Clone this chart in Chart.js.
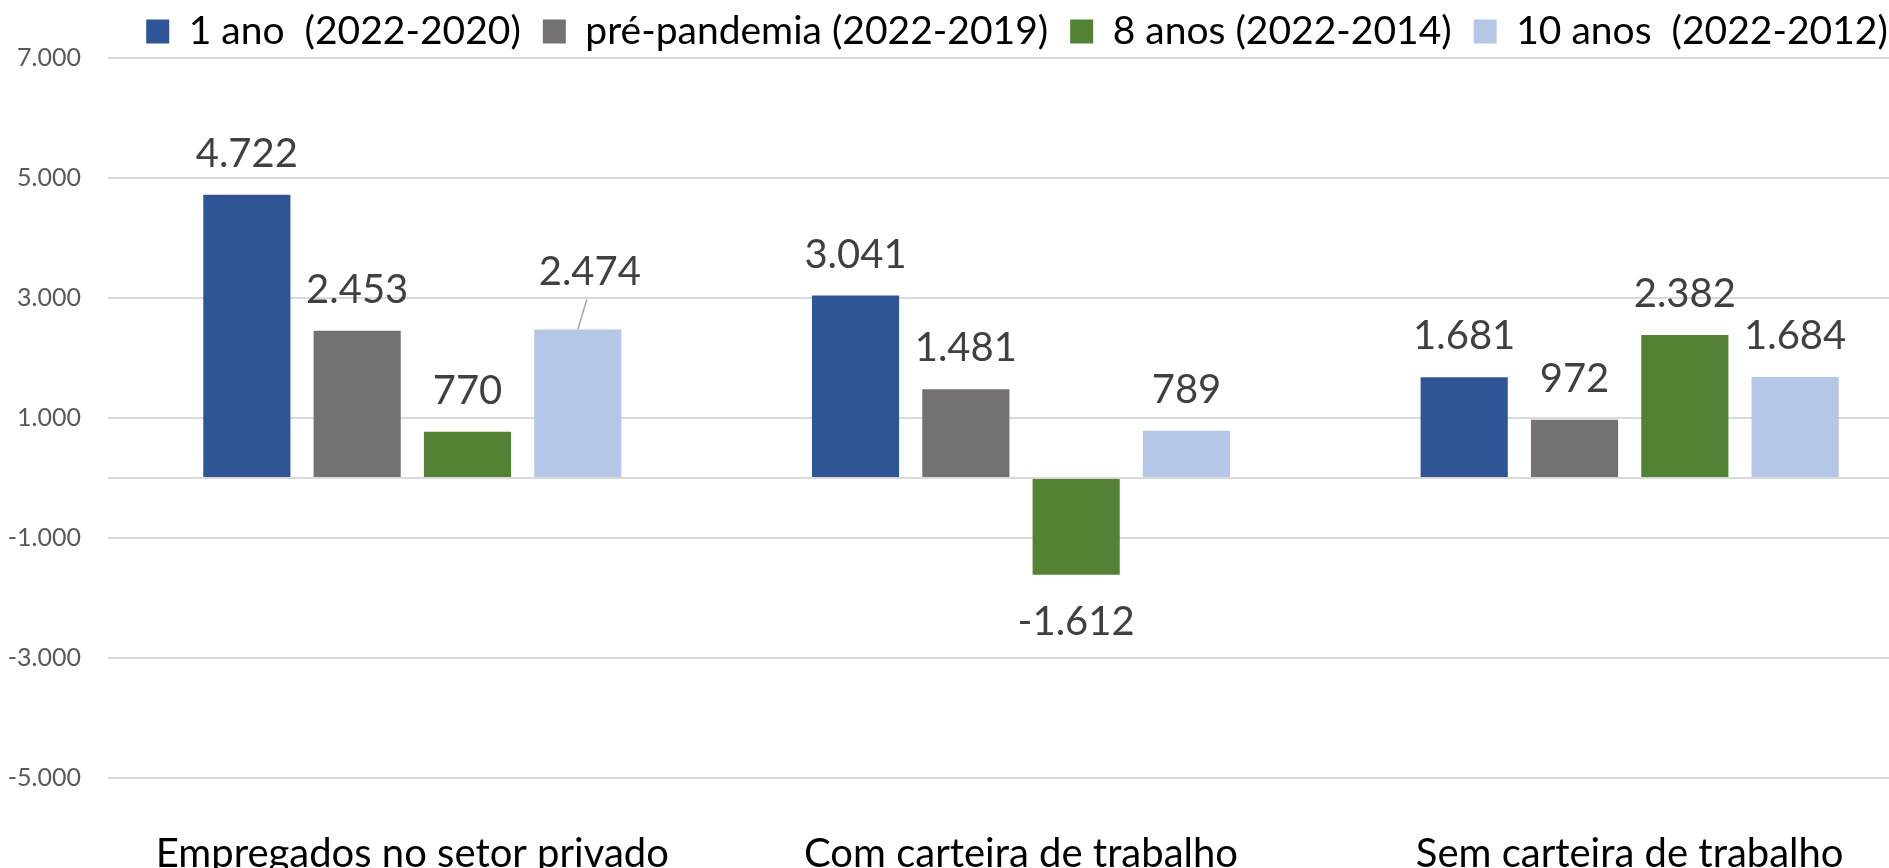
<!DOCTYPE html>
<html lang="pt">
<head>
<meta charset="utf-8">
<title>Emprego - variação</title>
<script src="https://cdn.jsdelivr.net/npm/chart.js"></script>
<style>
  html, body { margin: 0; padding: 0; background: #fff; overflow: hidden; }
  #wrap { width: 1934px; height: 868px; }
</style>
</head>
<body>
<div id="wrap">
  <canvas id="empChart" width="1934" height="868"></canvas>
</div>
<script>
const categories = ['Empregados no setor privado', 'Com carteira de trabalho', 'Sem carteira de trabalho'];
const seriesNames = ['1 ano  (2022-2020)', 'pré-pandemia (2022-2019)', '8 anos (2022-2014)', '10 anos  (2022-2012)'];
const umAno = [4722, 3041, 1681];
const prePandemia = [2453, 1481, 972];
const oitoAnos = [770, -1612, 2382];
const dezAnos = [2474, 789, 1684];
const seriesColors = ['#2F5597', '#767171', '#548235', '#B4C7E7'];
const yTicks = [-5000, -3000, -1000, 1000, 3000, 5000, 7000];

function fmt(v) {
  const s = Math.abs(v).toString().replace(/\B(?=(\d{3})+(?!\d))/g, '.');
  return (v < 0 ? '-' : '') + s;
}

// labels above / below each bar, like Excel's "outside end"
const valueLabels = {
  id: 'valueLabels',
  afterDatasetsDraw(chart) {
    const ctx = chart.ctx;
    ctx.save();
    ctx.font = '40px Lato';
    ctx.fillStyle = '#404040';
    ctx.textAlign = 'center';
    ctx.textBaseline = 'alphabetic';
    chart.data.datasets.forEach((ds, i) => {
      chart.getDatasetMeta(i).data.forEach((bar, j) => {
        const v = ds.data[j];
        let x = bar.x;
        let y = v >= 0 ? bar.y - 28 : bar.y + 60;
        // the 2.474 label was dragged a bit in the original, with a leader line
        if (i === 3 && j === 0) {
          x += 12;
          y -= 17;
          ctx.strokeStyle = '#A6A6A6';
          ctx.lineWidth = 1.5;
          ctx.beginPath();
          ctx.moveTo(bar.x + 9, y + 15);
          ctx.lineTo(bar.x, bar.y);
          ctx.stroke();
        }
        ctx.fillText(fmt(v), x, y);
      });
    });
    ctx.restore();
  }
};

// nudge legend to where Excel put it
const legendNudge = {
  id: 'legendNudge',
  afterLayout(chart) {
    const lg = chart.legend;
    lg.left += 50; lg.right += 50;
    lg.top += 3; lg.bottom += 3;
  }
};

const data = {
  labels: categories,
  datasets: [umAno, prePandemia, oitoAnos, dezAnos].map((vals, i) => ({
    label: seriesNames[i],
    data: vals,
    backgroundColor: seriesColors[i],
    borderWidth: 0,
    categoryPercentage: 0.725,
    barPercentage: 0.79
  }))
};

const options = {
  responsive: false,
  animation: false,
  layout: { padding: { top: -13, left: 0, right: 0, bottom: 0 } },
  plugins: {
    legend: {
      position: 'top',
      align: 'center',
      labels: {
        boxWidth: 23,
        boxHeight: 24,
        padding: 22,
        color: '#000',
        font: { family: 'Lato', size: 39 }
      }
    },
    tooltip: { enabled: false }
  },
  scales: {
    x: {
      grid: { display: false },
      border: { display: false },
      ticks: {
        color: '#000',
        font: { family: 'Lato', size: 40 },
        padding: 44,
        maxRotation: 0,
        autoSkip: false
      },
      afterFit(scale) { scale.height = 90; }
    },
    y: {
      min: -5000,
      max: 7000,
      border: { display: false },
      grid: { color: '#D9D9D9', lineWidth: 2, drawTicks: false },
      afterBuildTicks(scale) {
        scale.ticks = yTicks.concat([0]).sort((a, b) => a - b).map(v => ({ value: v }));
      },
      ticks: {
        color: '#595959',
        font: { family: 'Lato', size: 25 },
        padding: 27,
        callback: v => (v === 0 ? '' : fmt(v))
      },
      afterFit(scale) { scale.width = 108; }
    }
  }
};

new Chart(document.getElementById('empChart'), {
  type: 'bar',
  data,
  options,
  plugins: [valueLabels, legendNudge]
});
</script>
</body>
</html>
